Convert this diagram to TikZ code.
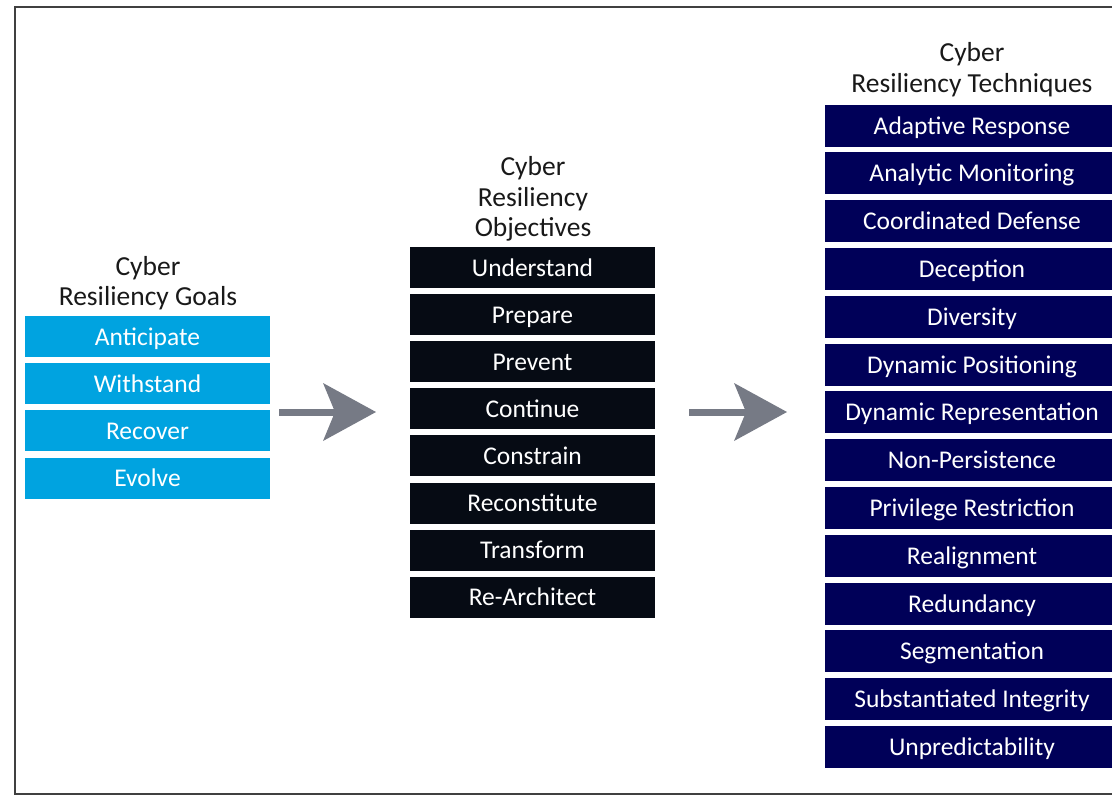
\documentclass[tikz,border=0pt]{standalone}
\usepackage{fontspec}
\setmainfont{Carlito}
\usepackage{tikz}
\usetikzlibrary{arrows.meta}

\definecolor{goalblue}{RGB}{0,163,224}
\definecolor{objblack}{RGB}{6,11,20}
\definecolor{technavy}{RGB}{0,0,88}
\definecolor{arrowgray}{RGB}{118,122,133}

\tikzset{
  colbox/.style={minimum width=245pt, minimum height=41pt, inner sep=0pt,
    text height=18pt, text depth=1pt,
    text=white, font=\fontsize{25.5}{25.5}\selectfont},
  goalbox/.style={colbox, fill=goalblue},
  objbox/.style={colbox, fill=objblack},
  techbox/.style={colbox, fill=technavy, minimum width=294pt, minimum height=42pt},
  coltitle/.style={align=center, inner sep=0pt, text=black!90,
    font=\fontsize{27.5}{30.5}\selectfont},
  bigarrow/.style={arrowgray, line width=7pt,
    -{Stealth[length=53pt, width=58pt, inset=12pt, line width=0pt]}}
}

\begin{document}
\begin{tikzpicture}[x=1pt, y=-1pt]
    % Page size and frame
    \clip (0,0) rectangle (1112,796);
    \draw[line width=2pt, black!75] (15,7) rectangle (1140,794);

    % Goals column
    \node[coltitle] (goaltitle) at (148,283) {Cyber\\Resiliency Goals};
    \foreach \txt [count=\i] in {Anticipate, Withstand, Recover, Evolve}
        \node[goalbox] (goal\i) at (147.5, {336.5+47.2*(\i-1)}) {\txt};

    % Objectives column
    \node[coltitle] (objtitle) at (533,199) {Cyber\\Resiliency\\Objectives};
    \foreach \txt [count=\i] in {Understand, Prepare, Prevent, Continue,
        Constrain, Reconstitute, Transform, Re-Architect}
        \node[objbox] (obj\i) at (532.5, {267.5+47.1*(\i-1)}) {\txt};

    % Techniques column
    \node[coltitle] (techtitle) at (972,69.5) {Cyber\\Resiliency Techniques};
    \foreach \txt [count=\i] in {Adaptive Response, Analytic Monitoring,
        Coordinated Defense, Deception, Diversity, Dynamic Positioning,
        Dynamic Representation, Non-Persistence, Privilege Restriction,
        Realignment, Redundancy, Segmentation, Substantiated Integrity,
        Unpredictability}
        \node[techbox] (tech\i) at (972, {125.5+47.8*(\i-1)}) {\txt};

    % Arrows between the columns
    \coordinate (arrowAfrom) at (279,412);
    \coordinate (arrowAto) at (376,412);
    \coordinate (arrowBfrom) at (689,412);
    \coordinate (arrowBto) at (787,412);
    \draw[bigarrow] (arrowAfrom) -- (arrowAto);
    \draw[bigarrow] (arrowBfrom) -- (arrowBto);
\end{tikzpicture}
\end{document}
